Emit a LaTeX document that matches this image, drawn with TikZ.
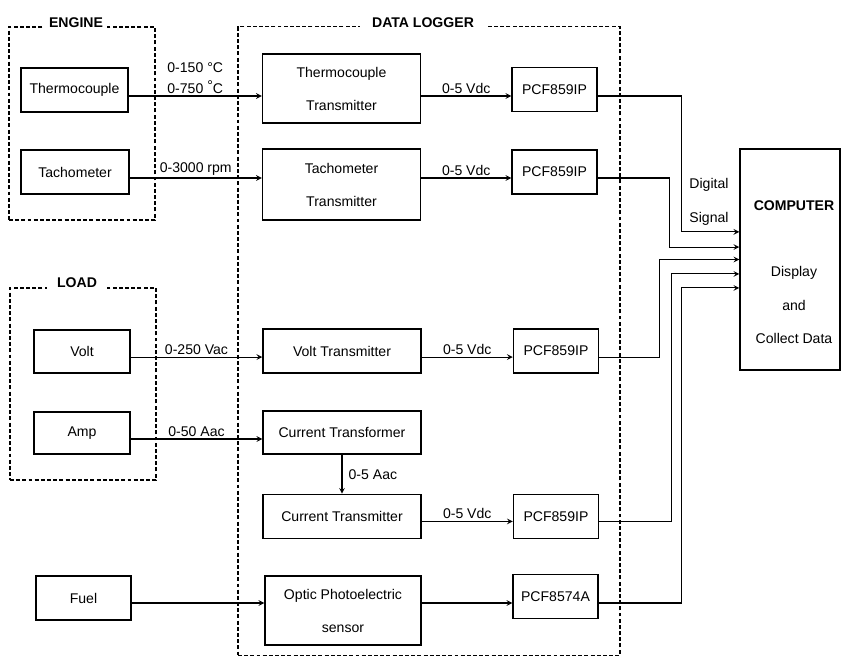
\documentclass[tikz,border=0pt]{standalone}
\usepackage{fontspec}
\setmainfont{Liberation Sans}
\usetikzlibrary{arrows, positioning}

\begin{document}
\begin{tikzpicture}[
    x=0.025cm, y=-0.025cm,
    base/.style={rectangle, draw=black, line width=1pt, align=center, minimum height=1.1cm, inner sep=2pt},
    sensor/.style={base, minimum width=2.4cm},
    trans/.style={base, minimum width=3.95cm, font=\fontsize{10}{23.5}\selectfont},
    pcf/.style={base, minimum width=2.125cm},
    group/.style={rectangle, draw=black, dash pattern=on 2.8pt off 1.6pt, thick},
    title/.style={fill=white, inner xsep=0.2cm, font=\bfseries},
    arrow/.style={->, >=stealth, thick},
    lbl/.style={inner sep=1.5pt, align=center, font=\fontsize{10}{15}\selectfont}
]
\useasboundingbox (0,0) rectangle (842,657);

% Grupos
\node[group, minimum width=3.65cm, minimum height=4.825cm] (engine) at (82,123.5) {};
\node[group, minimum width=3.65cm, minimum height=4.8cm] (load) at (83,384) {};
\node[group, minimum width=9.55cm, minimum height=15.7cm] (logger) at (429,341) {};
\node[title, inner xsep=0.1cm] (engtitle) at (76,23) {ENGINE};
\node[title, inner xsep=0.25cm] (loadtitle) at (77,283) {LOAD};
\node[title, inner xsep=0.3cm] (logtitle) at (423,23) {DATA LOGGER};

% Sensores
\node[sensor, minimum width=2.675cm] (thermo) at (74.5,90) {Thermocouple};
\node[sensor, minimum width=2.7cm] (tacho) at (75,172) {Tachometer};
\node[sensor, minimum height=1.075cm] (volt) at (82,351.5) {Volt};
\node[sensor, minimum height=1.05cm] (amp) at (82,433) {Amp};
\node[sensor, minimum width=2.375cm] (fuel) at (83.5,598) {Fuel};

% Transmisores
\node[trans, minimum height=1.725cm] (tctrans) at (341.5,88.5) {Thermocouple\\Transmitter};
\node[trans, minimum height=1.775cm] (tachtrans) at (341.5,184.5) {Tachometer\\Transmitter};
\node[trans] (volttrans) at (342,351) {Volt Transmitter};
\node[trans, minimum height=1.075cm] (ctrafo) at (342,432.5) {Current Transformer};
\node[trans, below=0.975cm of ctrafo] (ctrans) {Current Transmitter};
\node[trans, minimum width=3.9cm, minimum height=1.725cm] (optic) at (343,610.5) {Optic Photoelectric\\sensor};

% Convertidores
\node[pcf] (pcf1) at (554.5,89.5) {PCF859IP};
\node[pcf] (pcf2) at (554.5,172) {PCF859IP};
\node[pcf, right=2.275cm of volttrans] (pcf3) {PCF859IP};
\node[pcf, right=2.275cm of ctrans] (pcf4) {PCF859IP};
\node[pcf] (pcf5) at (555.5,596.5) {PCF8574A};

% Computador
\node[base, minimum width=2.5cm, minimum height=5.525cm] (comp) at (790,259.5) {};
\node[align=center, font=\fontsize{10}{23.7}\selectfont] (comptext) at (794,272) {\textbf{COMPUTER}\\[23.7pt]Display\\and\\Collect Data};
\node[align=center, font=\fontsize{10}{24}\selectfont] (digsig) at (709,202) {Digital\\Signal};

% Puntos de conexion
\coordinate (r1) at ([yshift=-1.5mm]thermo.east);
\coordinate (r2) at ([yshift=-1.5mm]tacho.east);
\coordinate (r3) at ([yshift=-1.4mm]volt.east);
\coordinate (r4) at ([yshift=-1.5mm]amp.east);
\coordinate (r5) at ([yshift=-1.25mm]fuel.east);
\coordinate (r6) at ([yshift=-1.25mm]ctrans.east);
\coordinate (in1) at ([yshift=6.9mm]comp.west);
\coordinate (in2) at ([yshift=3.1mm]comp.west);
\coordinate (in3) at (comp.west);
\coordinate (in4) at ([yshift=-3.6mm]comp.west);
\coordinate (in5) at ([yshift=-7.1mm]comp.west);

% Flechas
\draw[arrow] (r1) -- node[lbl, above] {0-150 °C\\0-750 \raisebox{0.3ex}{°}C} (r1 -| tctrans.west);
\draw[arrow] (r1 -| tctrans.east) -- node[lbl, above] {0-5 Vdc} (r1 -| pcf1.west);
\draw[arrow] (r1 -| pcf1.east) -- ++(84,0) |- (in1);

\draw[arrow] (r2) -- node[lbl, above] {0-3000 rpm} (r2 -| tachtrans.west);
\draw[arrow] (r2 -| tachtrans.east) -- node[lbl, above] {0-5 Vdc} (r2 -| pcf2.west);
\draw[arrow] (r2 -| pcf2.east) -- ++(72,0) |- (in2);

\draw[arrow] (r3) -- node[lbl, above] {0-250 Vac} (r3 -| volttrans.west);
\draw[arrow] (r3 -| volttrans.east) -- node[lbl, above] {0-5 Vdc} (r3 -| pcf3.west);
\draw[arrow] (r3 -| pcf3.east) -- ++(60,0) |- (in3);

\draw[arrow] (r4) -- node[lbl, above] {0-50 Aac} (r4 -| ctrafo.west);
\draw[arrow] (ctrafo) -- node[lbl, right, xshift=1mm] {0-5 Aac} (ctrans);
\draw[arrow] (r6) -- node[lbl, above] {0-5 Vdc} (r6 -| pcf4.west);
\draw[arrow] (r6 -| pcf4.east) -- ++(72,0) |- (in4);

\draw[arrow] (r5) -- (r5 -| optic.west);
\draw[arrow] (r5 -| optic.east) -- (r5 -| pcf5.west);
\draw[arrow] (r5 -| pcf5.east) -- ++(83,0) |- (in5);

\end{tikzpicture}
\end{document}
